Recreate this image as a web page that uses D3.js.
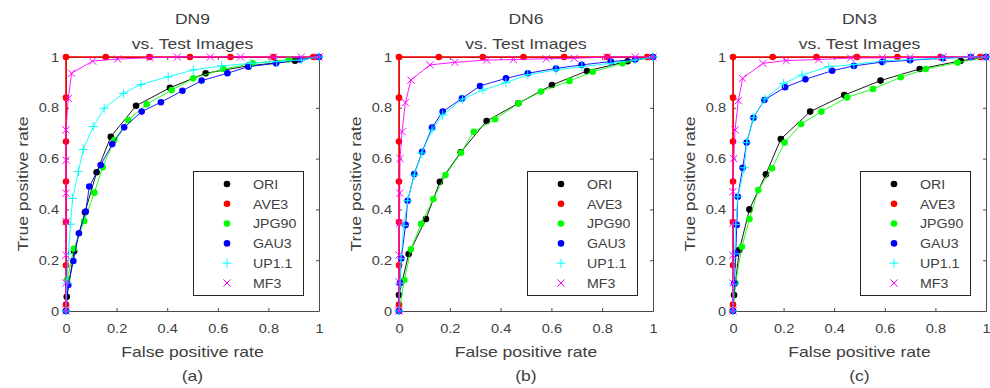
<!DOCTYPE html>
<html>
<head>
<meta charset="utf-8">
<script src="https://cdn.jsdelivr.net/npm/d3@7"></script>
<style>
body { margin: 0; background: #fff; }
text { font-family: "Liberation Sans", Arial, sans-serif; fill: #404040; }
</style>
</head>
<body>
<div id="chart"></div>
<script>
var svgWidth = 990;
var svgHeight = 388;

// ---- data: [false positive rate, true positive rate]
var seriesNames = ['ORI', 'AVE3', 'JPG90', 'GAU3', 'UP1.1', 'MF3'];
var panelTitles = ['DN9', 'DN6', 'DN3'];
var panelTags = ['(a)', '(b)', '(c)'];
var tickValues = [0, 0.2, 0.4, 0.6, 0.8, 1];
var tickLabels = ['0', '0.2', '0.4', '0.6', '0.8', '1'];

// AVE3 is the same in all three panels
var ave3 = [[0,0],[0,0.025],[0,0.18],[0,0.35],[0,0.51],[0,0.667],[0,0.84],[0,1],[0.157,1],[0.33,1],[0.49,1],[0.65,1],[0.82,1],[0.977,1],[1,1]];

var dn9Ori = [[0,0],[0.003,0.056],[0.032,0.235],[0.075,0.389],[0.121,0.546],[0.177,0.686],[0.277,0.808],[0.411,0.879],[0.552,0.936],[0.72,0.965],[0.905,0.985],[1,1]];
var dn9Jpg = [[0,0],[0.005,0.125],[0.031,0.245],[0.072,0.354],[0.112,0.466],[0.145,0.566],[0.191,0.673],[0.246,0.752],[0.319,0.814],[0.418,0.87],[0.503,0.916],[0.622,0.953],[0.738,0.975],[0.88,0.99],[1,1]];
var dn9Gau = [[0,0],[0.009,0.102],[0.029,0.197],[0.051,0.306],[0.078,0.392],[0.092,0.49],[0.137,0.575],[0.183,0.657],[0.23,0.723],[0.299,0.785],[0.375,0.822],[0.46,0.867],[0.536,0.907],[0.638,0.936],[0.721,0.962],[0.83,0.975],[0.925,0.99],[1,1]];
var dn9Up = [[0,0],[0.003,0.11],[0.01,0.225],[0.018,0.342],[0.026,0.443],[0.049,0.549],[0.068,0.636],[0.108,0.726],[0.151,0.798],[0.227,0.857],[0.296,0.892],[0.404,0.922],[0.503,0.949],[0.615,0.965],[0.73,0.975],[0.833,0.982],[0.93,0.988],[1,1]];
var dn9Mf = [[0,0],[0,0.111],[0,0.22],[0,0.352],[0,0.464],[0,0.594],[0,0.713],[0.009,0.837],[0.022,0.936],[0.105,0.984],[0.204,0.992],[0.332,0.997],[0.44,1],[0.57,1],[0.69,1],[0.82,1],[0.93,1],[1,1]];

var dn6Ori = [[0,0],[0,0.063],[0.038,0.224],[0.106,0.362],[0.161,0.509],[0.243,0.625],[0.345,0.748],[0.47,0.818],[0.602,0.89],[0.74,0.945],[0.9,0.983],[1,1]];
var dn6Jpg = [[0,0],[0.021,0.122],[0.047,0.243],[0.087,0.343],[0.135,0.441],[0.183,0.535],[0.244,0.623],[0.294,0.706],[0.378,0.755],[0.471,0.818],[0.559,0.864],[0.671,0.906],[0.763,0.942],[0.88,0.975],[1,1]];
var dn6Gau = [[0,0],[0.004,0.11],[0.009,0.207],[0.026,0.339],[0.034,0.434],[0.06,0.539],[0.091,0.627],[0.13,0.722],[0.172,0.785],[0.248,0.837],[0.319,0.886],[0.421,0.916],[0.507,0.936],[0.618,0.955],[0.719,0.969],[0.834,0.982],[0.93,0.99],[1,1]];
var dn6Up = [[0,0],[0.004,0.11],[0.008,0.207],[0.019,0.336],[0.034,0.434],[0.06,0.535],[0.09,0.622],[0.13,0.713],[0.172,0.772],[0.25,0.834],[0.33,0.87],[0.421,0.899],[0.507,0.93],[0.618,0.949],[0.72,0.962],[0.834,0.975],[0.93,0.988],[1,1]];
var dn6Mf = [[0,0],[0,0.115],[0,0.22],[0.002,0.345],[0.003,0.464],[0.004,0.6],[0.012,0.706],[0.025,0.82],[0.047,0.909],[0.122,0.969],[0.22,0.979],[0.345,0.988],[0.45,0.99],[0.58,0.993],[0.69,0.995],[0.82,1],[0.93,1],[1,1]];

var dn3Ori = [[0,0],[0.004,0.063],[0.025,0.24],[0.065,0.4],[0.13,0.538],[0.189,0.677],[0.305,0.785],[0.44,0.85],[0.583,0.907],[0.738,0.953],[0.9,0.985],[1,1]];
var dn3Jpg = [[0,0],[0.01,0.11],[0.035,0.253],[0.065,0.362],[0.1,0.476],[0.154,0.562],[0.204,0.663],[0.269,0.736],[0.349,0.785],[0.451,0.841],[0.553,0.874],[0.663,0.92],[0.762,0.953],[0.888,0.978],[1,1]];
var dn3Gau = [[0,0],[0.005,0.109],[0.011,0.227],[0.015,0.339],[0.019,0.45],[0.038,0.564],[0.054,0.663],[0.081,0.761],[0.124,0.831],[0.206,0.881],[0.286,0.912],[0.392,0.946],[0.478,0.965],[0.59,0.98],[0.7,0.987],[0.83,0.995],[0.94,1],[1,1]];
var dn3Up = [[0,0],[0.002,0.106],[0.006,0.225],[0.011,0.341],[0.019,0.45],[0.045,0.564],[0.054,0.663],[0.081,0.761],[0.126,0.835],[0.2,0.896],[0.273,0.929],[0.378,0.962],[0.478,0.97],[0.597,0.986],[0.7,0.99],[0.83,0.995],[0.94,1],[1,1]];
var dn3Mf = [[0,0],[0,0.11],[0,0.22],[0,0.345],[0,0.47],[0.003,0.6],[0.008,0.713],[0.021,0.828],[0.038,0.916],[0.118,0.975],[0.21,0.986],[0.339,0.99],[0.465,0.996],[0.59,0.997],[0.7,0.998],[0.83,1],[0.94,1],[1,1]];

// ---- styles
var colors = ['#000000', '#ff0000', '#00ff00', '#0000ff', '#00ffff', '#ff00ff'];
var markerTypes = ['dot', 'dot', 'dot', 'dot', 'plus', 'cross'];
var lineWidths = [0.9, 1.6, 0.9, 0.9, 0.9, 0.9];

var panels = [
    { title: panelTitles[0], tag: panelTags[0], left: 66, width: 253, series: [dn9Ori, ave3, dn9Jpg, dn9Gau, dn9Up, dn9Mf] },
    { title: panelTitles[1], tag: panelTags[1], left: 399, width: 254, series: [dn6Ori, ave3, dn6Jpg, dn6Gau, dn6Up, dn6Mf] },
    { title: panelTitles[2], tag: panelTags[2], left: 733, width: 253, series: [dn3Ori, ave3, dn3Jpg, dn3Gau, dn3Up, dn3Mf] }
];

var plotTop = 57;
var plotBottom = 311;
var height = plotBottom - plotTop;

var svg = d3.select('#chart').append('svg')
    .attr('width', svgWidth)
    .attr('height', svgHeight);

// text in the picture is a little wider than Arial
function widen(sel, k) {
    sel.each(function() {
        var w = this.getComputedTextLength();
        this.setAttribute('textLength', w * k);
        this.setAttribute('lengthAdjust', 'spacingAndGlyphs');
    });
}

function drawMarker(g, type, color) {
    if (type === 'dot') {
        g.append('circle').attr('r', 3.3).attr('fill', color);
    } else if (type === 'plus') {
        g.append('path').attr('d', 'M-4.5,0H4.5M0,-4.5V4.5')
            .attr('stroke', color).attr('stroke-width', 1).attr('fill', 'none');
    } else {
        g.append('path').attr('d', 'M-3.6,-3.6L3.6,3.6M-3.6,3.6L3.6,-3.6')
            .attr('stroke', color).attr('stroke-width', 1).attr('fill', 'none');
    }
}

panels.forEach(function(p) {
    var width = p.width;
    var xScale = d3.scaleLinear().domain([0, 1]).range([0, width]);
    var yScale = d3.scaleLinear().domain([0, 1]).range([height, 0]);

    var chartArea = svg.append('g')
        .attr('transform', `translate(${p.left},${plotTop})`);

    // axes, ticks pointing inward (box on)
    var xAxis = chartArea.append('g')
        .attr('transform', `translate(0,${height})`)
        .call(d3.axisBottom(xScale).tickValues(tickValues)
            .tickFormat((d, i) => tickLabels[i]).tickSizeInner(-3).tickSizeOuter(0).tickPadding(13));
    var yAxis = chartArea.append('g')
        .call(d3.axisLeft(yScale).tickValues(tickValues)
            .tickFormat((d, i) => tickLabels[i]).tickSizeInner(-3).tickSizeOuter(0).tickPadding(7));
    chartArea.append('g')
        .call(d3.axisTop(xScale).tickValues(tickValues).tickFormat('').tickSizeInner(-3).tickSizeOuter(0));
    chartArea.append('g')
        .attr('transform', `translate(${width},0)`)
        .call(d3.axisRight(yScale).tickValues(tickValues).tickFormat('').tickSizeInner(-3).tickSizeOuter(0));

    chartArea.selectAll('.domain, .tick line').attr('stroke', '#4a4a4a');
    chartArea.selectAll('.tick text')
        .attr('fill', '#484848')
        .style('font-size', '12.8px')
        .style('font-family', '"Liberation Sans", Arial, sans-serif')
        .call(widen, 1.14);
    xAxis.selectAll('.tick text').attr('dy', '0.71em');

    // titles and labels
    var t1 = chartArea.append('text')
        .attr('x', width / 2).attr('y', 23.5 - plotTop)
        .attr('text-anchor', 'middle').style('font-size', '15px')
        .text(p.title);
    var t2 = chartArea.append('text')
        .attr('x', width / 2).attr('y', 48.5 - plotTop)
        .attr('text-anchor', 'middle').style('font-size', '15px')
        .text('vs. Test Images');
    var xl = chartArea.append('text')
        .attr('x', width / 2).attr('y', 357 - plotTop)
        .attr('text-anchor', 'middle').style('font-size', '15px')
        .text('False positive rate');
    var tag = chartArea.append('text')
        .attr('x', width / 2).attr('y', 381 - plotTop)
        .attr('text-anchor', 'middle').style('font-size', '15px')
        .text(p.tag);
    var yl = chartArea.append('text')
        .attr('transform', `translate(-38.5,${height / 2}) rotate(-90)`)
        .attr('text-anchor', 'middle').style('font-size', '15px')
        .text('True positive rate');
    [t1, t2, xl, tag, yl].forEach(s => s.call(widen, 1.17));

    // curves
    var line = d3.line()
        .x(d => xScale(d[0]))
        .y(d => yScale(d[1]));

    p.series.forEach(function(data, i) {
        chartArea.append('path')
            .datum(data)
            .attr('d', line)
            .attr('fill', 'none')
            .attr('stroke', colors[i])
            .attr('stroke-width', lineWidths[i]);

        chartArea.selectAll('.m' + i)
            .data(data)
            .enter()
            .append('g')
            .attr('class', 'm' + i)
            .attr('transform', d => `translate(${xScale(d[0])},${yScale(d[1])})`)
            .each(function() { drawMarker(d3.select(this), markerTypes[i], colors[i]); });
    });

    // legend
    var legW = 110, legH = 124;
    var legend = chartArea.append('g')
        .attr('transform', `translate(${width - 16 - legW},${height - 16 - legH})`);
    legend.append('rect')
        .attr('x', 0.5).attr('y', 0.5)
        .attr('width', legW).attr('height', legH)
        .attr('fill', '#fff').attr('stroke', '#262626').attr('stroke-width', 1);

    seriesNames.forEach(function(name, i) {
        var rowY = 13 + i * 19.8;
        var mg = legend.append('g').attr('transform', `translate(34,${rowY})`);
        drawMarker(mg, markerTypes[i], colors[i]);
        legend.append('text')
            .attr('x', 60).attr('y', rowY + 4.7)
            .style('font-size', '13.4px')
            .text(name)
            .call(widen, 1.06);
    });
});
</script>
</body>
</html>
